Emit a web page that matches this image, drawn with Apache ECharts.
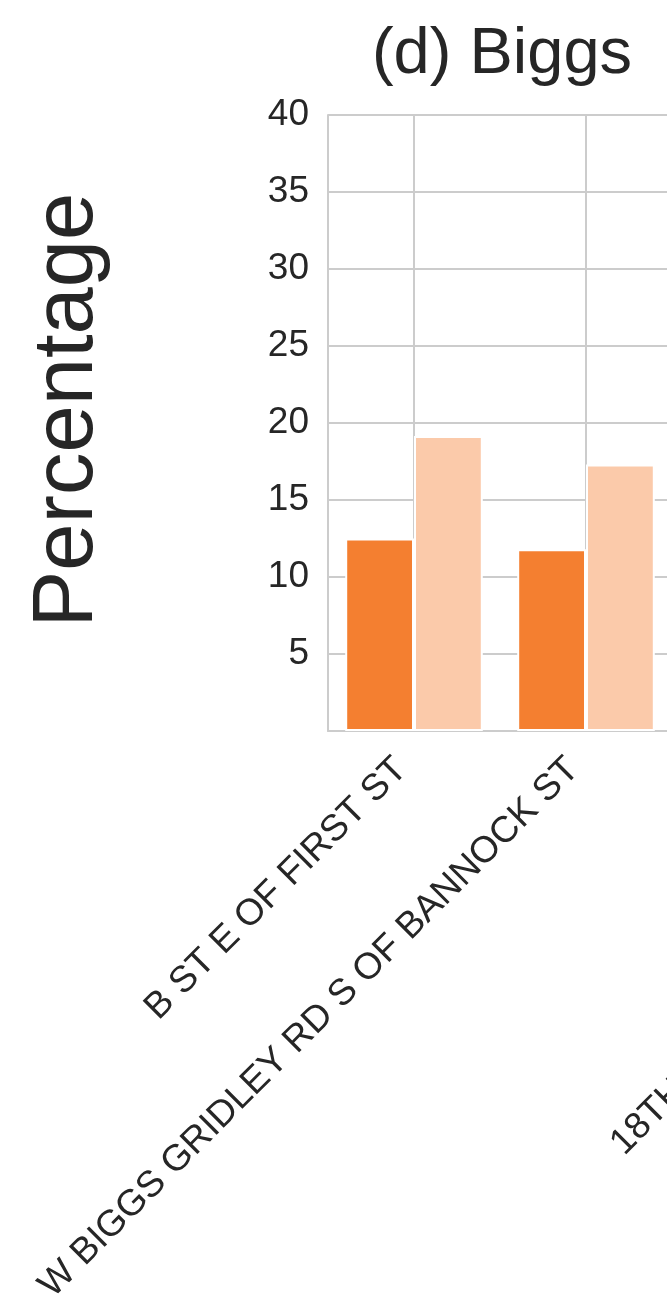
<!DOCTYPE html>
<html>
<head>
<meta charset="utf-8">
<script src="https://cdn.jsdelivr.net/npm/echarts@6/dist/echarts.min.js"></script>
<style>
html,body{margin:0;padding:0;background:#fff;overflow:hidden;}
#chart{width:1000px;height:1307px;}
</style>
</head>
<body>
<div id="chart"></div>
<script>
// Data
const categories = ['B ST E OF FIRST ST', 'W BIGGS GRIDLEY RD S OF BANNOCK ST'];
const seriesA = [12.5, 11.8];   // dark orange
const seriesB = [19.15, 17.3];  // light orange
const yTicks = [5, 10, 15, 20, 25, 30, 35, 40];
const titleText = '(d) Biggs';
const yLabel = 'Percentage';
const nextPanelLabel = '18TH ST';

const FONT = 'Liberation Sans, Arial, sans-serif';
const TXT = '#262626';
const GRID = '#cccccc';

const chart = echarts.init(document.getElementById('chart'), null, {renderer: 'canvas'});
chart.setOption({
  backgroundColor: '#ffffff',
  animation: false,
  title: {
    text: titleText,
    left: 497,
    top: 18,
    textAlign: 'center',
    textStyle: {fontFamily: FONT, fontSize: 65, fontWeight: 'normal', color: TXT}
  },
  grid: {left: 328, top: 115, width: 344, height: 616, containLabel: false, outerBoundsMode: 'none'},
  xAxis: {
    type: 'category',
    data: categories,
    axisLine: {show: true, lineStyle: {color: GRID, width: 2}},
    axisTick: {show: false},
    splitLine: {show: true, alignWithLabel: true, lineStyle: {color: GRID, width: 2}},
    axisLabel: {
      rotate: 45, interval: 0, margin: 20, padding: [0, 18, 0, 0],
      fontFamily: FONT, fontSize: 37, color: TXT
    }
  },
  yAxis: {
    type: 'value',
    min: 0, max: 40, interval: 5,
    name: yLabel,
    nameLocation: 'middle',
    nameGap: 217,
    nameRotate: 90,
    nameTextStyle: {fontFamily: FONT, fontSize: 85, color: TXT, padding: [0, 0, 0, 26]},
    axisLine: {show: true, lineStyle: {color: GRID, width: 2}},
    axisTick: {show: false},
    splitLine: {show: true, lineStyle: {color: GRID, width: 2}},
    axisLabel: {
      margin: 19, fontFamily: FONT, fontSize: 37, color: TXT,
      formatter: function (v) { return yTicks.indexOf(v) >= 0 ? String(v) : ''; }
    }
  },
  series: [
    {
      type: 'bar', data: seriesA, barGap: '0%', barCategoryGap: '20%',
      itemStyle: {color: '#F47F30', borderColor: '#ffffff', borderWidth: 2}
    },
    {
      type: 'bar', data: seriesB,
      itemStyle: {color: '#FBCAAA', borderColor: '#ffffff', borderWidth: 2}
    }
  ],
  graphic: [{
    type: 'text',
    x: 630, y: 1162,
    rotation: Math.PI / 4,
    style: {text: nextPanelLabel, fontFamily: FONT, fontSize: 37, fill: TXT, textVerticalAlign: 'bottom', textAlign: 'left'}
  }]
});
</script>
</body>
</html>
